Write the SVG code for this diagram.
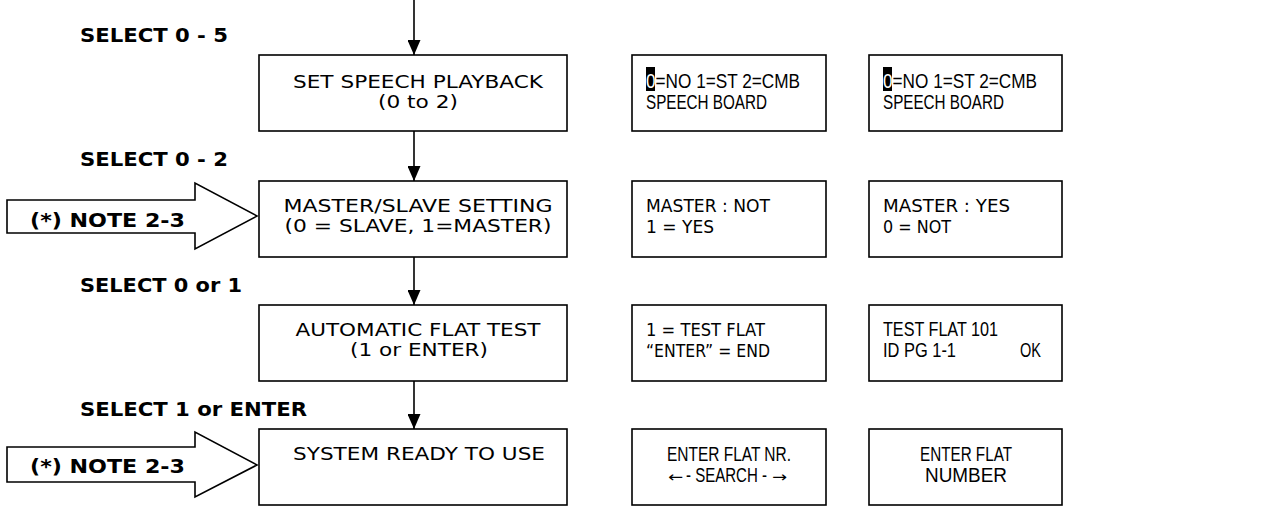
<svg xmlns="http://www.w3.org/2000/svg" width="1271" height="507" viewBox="0 0 1271 507">
<style>
.box{fill:#fff;stroke:#000;stroke-width:1.6}
.blk{fill:#fff;stroke:#000;stroke-width:1.6}
.lbl{font-family:"DejaVu Sans","Verdana",sans-serif;font-weight:bold;font-size:19px;fill:#000}
.t{font-family:"DejaVu Sans","Verdana",sans-serif;font-size:18px;fill:#000}
.n{font-family:"Liberation Sans Narrow","Liberation Sans",sans-serif;font-size:20px;fill:#000}
.ar{font-family:"DejaVu Sans",sans-serif;font-size:15px;fill:#000}
.c{text-anchor:middle}
.ln{stroke:#000;stroke-width:1.6;fill:none}
</style>
<defs>
<marker id="ah" markerWidth="15" markerHeight="13" refX="15" refY="6.5" orient="auto" markerUnits="userSpaceOnUse" viewBox="0 0 15 13">
<path d="M0,0 L15,6.5 L0,13 Z" fill="#000"/>
</marker>
</defs>
<g id="connectors">
<line class="ln" x1="414" y1="0" x2="414" y2="55" marker-end="url(#ah)"/>
<line class="ln" x1="414" y1="131" x2="414" y2="181" marker-end="url(#ah)"/>
<line class="ln" x1="414" y1="257" x2="414" y2="305" marker-end="url(#ah)"/>
<line class="ln" x1="414" y1="381" x2="414" y2="429" marker-end="url(#ah)"/>
</g>
<g id="labels">
<text class="lbl" x="80" y="42" textLength="148" lengthAdjust="spacingAndGlyphs">SELECT 0 - 5</text>
<text class="lbl" x="80" y="166" textLength="148" lengthAdjust="spacingAndGlyphs">SELECT 0 - 2</text>
<text class="lbl" x="80" y="292" textLength="162" lengthAdjust="spacingAndGlyphs">SELECT 0 or 1</text>
<text class="lbl" x="80" y="416" textLength="227" lengthAdjust="spacingAndGlyphs">SELECT 1 or ENTER</text>
</g>
<g id="note1">
<polygon class="blk" points="7,200 195,200 195,183 257,216 195,249 195,233 7,233"/>
<text class="lbl" x="30" y="227" textLength="155" lengthAdjust="spacingAndGlyphs">(*) NOTE 2-3</text>
</g>
<g id="note2">
<polygon class="blk" points="7,447 195,447 195,432 257,465 195,497 195,482 7,482"/>
<text class="lbl" x="30" y="473" textLength="155" lengthAdjust="spacingAndGlyphs">(*) NOTE 2-3</text>
</g>
<g id="speech">
<rect class="box" x="259" y="55" width="308" height="76"/>
<text class="t c" x="418" y="88" textLength="250" lengthAdjust="spacingAndGlyphs">SET SPEECH PLAYBACK</text>
<text class="t c" x="418" y="108" textLength="80" lengthAdjust="spacingAndGlyphs">(0 to 2)</text>
</g>
<g id="master">
<rect class="box" x="259" y="181" width="308" height="76"/>
<text class="t c" x="418" y="212" textLength="269" lengthAdjust="spacingAndGlyphs">MASTER/SLAVE SETTING</text>
<text class="t c" x="418" y="232" textLength="267" lengthAdjust="spacingAndGlyphs">(0 = SLAVE, 1=MASTER)</text>
</g>
<g id="flattest">
<rect class="box" x="259" y="305" width="308" height="76"/>
<text class="t c" x="418" y="336" textLength="245" lengthAdjust="spacingAndGlyphs">AUTOMATIC FLAT TEST</text>
<text class="t c" x="419" y="356" textLength="138" lengthAdjust="spacingAndGlyphs">(1 or ENTER)</text>
</g>
<g id="ready">
<rect class="box" x="259" y="429" width="308" height="76"/>
<text class="t c" x="419" y="460" textLength="252" lengthAdjust="spacingAndGlyphs">SYSTEM READY TO USE</text>
</g>
<g id="d1a">
<rect class="box" x="632" y="55" width="194" height="76"/>
<rect x="646" y="67" width="9" height="24" fill="#000"/>
<text class="n" x="646" y="88" textLength="154" lengthAdjust="spacingAndGlyphs"><tspan fill="#fff">0</tspan>=NO 1=ST 2=CMB</text>
<text class="n" x="646" y="109" textLength="121" lengthAdjust="spacingAndGlyphs">SPEECH BOARD</text>
</g>
<g id="d1b">
<rect class="box" x="869" y="55" width="193" height="76"/>
<rect x="883" y="67" width="9" height="24" fill="#000"/>
<text class="n" x="883" y="88" textLength="154" lengthAdjust="spacingAndGlyphs"><tspan fill="#fff">0</tspan>=NO 1=ST 2=CMB</text>
<text class="n" x="883" y="109" textLength="121" lengthAdjust="spacingAndGlyphs">SPEECH BOARD</text>
</g>
<g id="d2a">
<rect class="box" x="632" y="181" width="194" height="76"/>
<text class="t" x="646" y="212" textLength="124" lengthAdjust="spacingAndGlyphs">MASTER : NOT</text>
<text class="t" x="646" y="233" textLength="68" lengthAdjust="spacingAndGlyphs">1 = YES</text>
</g>
<g id="d2b">
<rect class="box" x="869" y="181" width="193" height="76"/>
<text class="t" x="883" y="212" textLength="127" lengthAdjust="spacingAndGlyphs">MASTER : YES</text>
<text class="t" x="883" y="233" textLength="68" lengthAdjust="spacingAndGlyphs">0 = NOT</text>
</g>
<g id="d3a">
<rect class="box" x="632" y="305" width="194" height="76"/>
<text class="t" x="646" y="336" textLength="119" lengthAdjust="spacingAndGlyphs">1 = TEST FLAT</text>
<text class="t" x="646" y="357" textLength="124" lengthAdjust="spacingAndGlyphs">“ENTER” = END</text>
</g>
<g id="d3b">
<rect class="box" x="869" y="305" width="193" height="76"/>
<text class="n" x="883" y="336" textLength="115" lengthAdjust="spacingAndGlyphs">TEST FLAT 101</text>
<text class="n" x="883" y="357" textLength="73" lengthAdjust="spacingAndGlyphs">ID PG 1-1</text>
<text class="n" x="1020" y="357" textLength="21" lengthAdjust="spacingAndGlyphs">OK</text>
</g>
<g id="d4a">
<rect class="box" x="632" y="429" width="194" height="76"/>
<text class="n c" x="729" y="461" textLength="124" lengthAdjust="spacingAndGlyphs">ENTER FLAT NR.</text>
<text class="ar" x="668" y="482" textLength="15" lengthAdjust="spacingAndGlyphs">←</text>
<text class="n" x="686" y="482" textLength="81" lengthAdjust="spacingAndGlyphs">- SEARCH -</text>
<text class="ar" x="772" y="482" textLength="15" lengthAdjust="spacingAndGlyphs">→</text>
</g>
<g id="d4b">
<rect class="box" x="869" y="429" width="193" height="76"/>
<text class="n c" x="966" y="461" textLength="92" lengthAdjust="spacingAndGlyphs">ENTER FLAT</text>
<text class="n c" x="966" y="482" textLength="82" lengthAdjust="spacingAndGlyphs">NUMBER</text>
</g>
</svg>
